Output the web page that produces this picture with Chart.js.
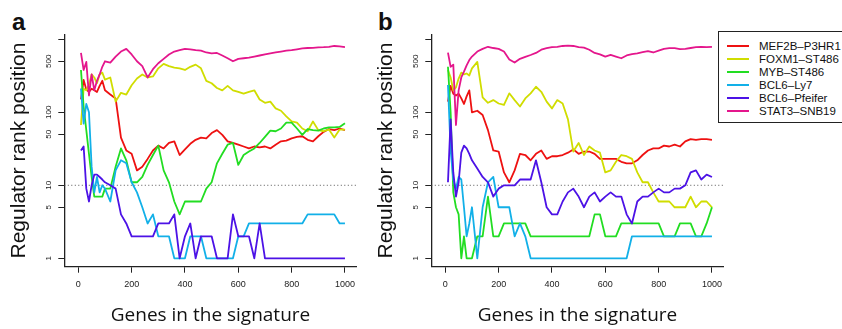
<!DOCTYPE html>
<html>
<head>
<meta charset="utf-8">
<script src="https://cdn.jsdelivr.net/npm/chart.js@4.4.1/dist/chart.umd.min.js"></script>
<style>
  body { margin: 0; background: #fff; width: 842px; height: 329px; overflow: hidden; position: relative;
         font-family: "Liberation Sans", Arial, sans-serif; }
  canvas { position: absolute; top: 0; }
  #chartA { left: 0; }
  #chartB { left: 367px; }
  .tag { position: absolute; font-weight: bold; font-size: 24px; line-height: 24px; color: #111; }
  #legend { position: absolute; left: 718px; top: 31px; width: 140px; height: 90px;
            border: 1px solid #222; background: #fff; }
  .row { position: absolute; left: 8px; height: 13px; display: flex; align-items: center;
         white-space: nowrap; font-size: 11.5px; color: #111; }
  .swatch { display: inline-block; width: 22px; height: 2px; margin-right: 10px; }
</style>
</head>
<body>
<div class="tag" style="left:12px; top:10px;">a</div>
<div class="tag" style="left:378px; top:10px;">b</div>
<canvas id="chartA" width="421" height="329"></canvas>
<canvas id="chartB" width="421" height="329"></canvas>
<div id="legend"></div>
<script>
// -------------------------------
// Data ---------------------------
// -------------------------------
const genes = [10, 20, 30, 40, 50, 60, 70, 80, 90, 100,
  120, 140, 160, 180, 200, 220, 240, 260, 280, 300,
  320, 340, 360, 380, 400, 420, 440, 460, 480, 500,
  520, 540, 560, 580, 600, 620, 640, 660, 680, 700,
  720, 740, 760, 780, 800, 820, 840, 860, 880, 900,
  920, 940, 960, 980, 1000];

const xTicks = [0, 200, 400, 600, 800, 1000];
const yTicks = [1, 5, 10, 50, 100, 500, 1000];
const cutoff = 10;

const seriesNames = ["MEF2B–P3HR1", "FOXM1–ST486", "MYB–ST486", "BCL6–Ly7", "BCL6–Pfeifer", "STAT3–SNB19"];
const seriesColors = ["#EE1111", "#D0DD00", "#22DD22", "#12B0E8", "#4C12E6", "#E4168C"];

// panel a
const mef2bA = [150, 277, 205, 190, 210, 200, 190, 230, 270, 200,
  175, 155, 45, 30, 27, 16, 18, 23, 30, 35,
  32, 38, 40, 26, 31, 37, 42, 45, 44, 52,
  57, 49, 40, 38, 36, 34, 32, 34, 33, 34,
  32, 36, 40, 41, 44, 46, 47, 42, 40, 47,
  54, 59, 57, 60, 57];
const foxm1A = [67, 210, 200, 240, 330, 300, 250, 330, 350, 280,
  300, 140, 185, 175, 235, 290, 330, 300, 310, 400,
  460, 430, 410, 400, 380, 420, 450, 400, 270, 250,
  215, 200, 230, 200, 190, 180, 190, 200, 150, 135,
  140, 113, 105, 88, 75, 72, 60, 55, 75, 57,
  55, 58, 45, 58, 58];
const mybA = [380, 120, 57, 27, 13, 7, 7, 7, 7, 9,
  9, 18, 32, 22, 11, 11, 13, 19, 26, 35,
  16, 11, 6, 4, 6, 6, 6, 6, 9, 11,
  20, 27, 36, 38, 19, 26, 29, 32, 38, 46,
  56, 55, 60, 72, 72, 60, 49, 59, 57, 56,
  60, 62, 62, 63, 71];
const bcl6Ly7A = [212, 70, 130, 100, 18, 8, 13, 8, 10, 9,
  6, 16, 22, 20, 11, 8, 5, 3, 4, 2,
  2, 2, 1, 1, 1, 2, 2, 2, 1, 1,
  1, 1, 1, 1, 2, 2, 3, 3, 3, 3,
  3, 3, 3, 3, 3, 3, 3, 4, 4, 4,
  4, 4, 4, 3, 3];
const bcl6PfA = [30, 34, 9, 6, 10, 14, 14, 13, 12, 11,
  10, 9, 4, 3, 2, 2, 2, 2, 2, 3,
  3, 3, 4, 1, 2, 3, 1, 2, 2, 2,
  1, 1, 1, 4, 2, 2, 2, 1, 3, 1,
  1, 1, 1, 1, 1, 1, 1, 1, 1, 1,
  1, 1, 1, 1, 1];
const stat3A = [650, 380, 490, 170, 330, 200, 270, 330, 420, 500,
  480, 580, 680, 740, 620, 500, 430, 300, 390, 470,
  540, 620, 680, 710, 740, 730, 710, 700, 660, 640,
  650, 600, 550, 500, 540, 550, 560, 580, 600, 620,
  640, 660, 680, 700, 710, 730, 750, 760, 765, 775,
  780, 790, 810, 800, 780];

// panel b
const mef2bB = [140, 230, 180, 170, 180, 155, 130, 165, 200, 100,
  105, 92, 57, 30, 29, 15, 11, 16, 27, 26,
  22, 27, 30, 23, 25, 25, 26, 28, 31, 27,
  29, 29, 27, 23, 23, 23, 23, 21, 20, 20,
  22, 26, 30, 32, 32, 35, 34, 36, 34, 40,
  43, 42, 43, 43, 42];
const foxm1B = [380, 300, 200, 220, 290, 350, 330, 340, 320, 400,
  490, 160, 135, 147, 132, 126, 182, 147, 120, 155,
  182, 224, 191, 140, 113, 147, 132, 80, 29, 38,
  26, 34, 30, 28, 15, 16, 21, 26, 25, 23,
  15, 11, 11, 8, 6, 6, 6, 5, 5, 5,
  7, 5, 6, 6, 5];
const mybB = [420, 100, 8, 5, 4, 1, 2, 1, 1, 1,
  2, 2, 7, 2, 2, 3, 3, 3, 3, 3,
  2, 2, 2, 2, 2, 2, 2, 2, 2, 2,
  2, 2, 4, 4, 2, 2, 2, 3, 3, 3,
  3, 3, 3, 3, 3, 2, 2, 2, 3, 3,
  3, 2, 2, 3, 5];
const bcl6Ly7B = [237, 30, 12, 9, 13, 12, 5, 2, 3, 5,
  1, 5, 11, 13, 5, 5, 5, 2, 3, 2,
  1, 1, 1, 1, 1, 1, 1, 1, 1, 1,
  1, 1, 1, 1, 1, 1, 1, 1, 1, 2,
  2, 2, 2, 2, 2, 2, 2, 2, 2, 2,
  2, 2, 2, 2, 2];
const bcl6PfB = [11, 80, 15, 7, 11, 28, 35, 32, 27, 22,
  17, 13, 11, 7, 9, 10, 10, 10, 12, 12,
  12, 22, 11, 5, 4, 4, 6, 8, 9, 7,
  5, 7, 8, 6, 7, 8, 7, 7, 4, 3,
  6, 7, 7, 8, 9, 8, 8, 9, 9, 10,
  15, 16, 12, 14, 13];
const stat3B = [656, 420, 450, 67, 200, 300, 360, 440, 520, 580,
  680, 740, 790, 760, 740, 680, 530, 480, 540, 575,
  610, 650, 720, 755, 780, 790, 810, 820, 810, 780,
  770, 720, 650, 620, 580, 610, 580, 550, 600, 625,
  640, 665, 690, 660, 700, 740, 755, 755, 735, 740,
  760, 780, 790, 780, 790];

const panelA = [mef2bA, foxm1A, mybA, bcl6Ly7A, bcl6PfA, stat3A];
const panelB = [mef2bB, foxm1B, mybB, bcl6Ly7B, bcl6PfB, stat3B];

// -------------------------------
// Axis ranges (R style, 4% pad) --
// -------------------------------
const X_MIN = -52.5, X_MAX = 1044;
const Y_MIN = 0.767, Y_MAX = 1171;

const axisColor = "#222";

function makeChart(canvasId, series) {
  const datasets = series.map((vals, i) => ({
    label: seriesNames[i],
    data: vals.map((v, j) => ({ x: genes[j], y: v })),
    borderColor: seriesColors[i],
    borderWidth: 1.8,
    borderJoinStyle: "round",
    pointRadius: 0,
    tension: 0,
    fill: false,
    order: series.length - i,
  }));
  // dotted cutoff line at rank 10
  datasets.push({
    label: "cutoff",
    data: [{ x: X_MIN, y: cutoff }, { x: X_MAX, y: cutoff }],
    borderColor: "#555",
    borderWidth: 1,
    borderDash: [1, 2.5],
    pointRadius: 0,
    order: 20,
  });

  return new Chart(document.getElementById(canvasId), {
    type: "line",
    data: { datasets },
    options: {
      responsive: false,
      animation: false,
      events: [],
      layout: { padding: { top: 34.3, right: 64.3, left: 0, bottom: 0 } },
      plugins: { legend: { display: false }, tooltip: { enabled: false } },
      scales: {
        x: {
          type: "linear",
          min: X_MIN,
          max: X_MAX,
          bounds: "data",
          afterBuildTicks: (s) => { s.ticks = xTicks.map((v) => ({ value: v })); },
          afterFit: (s) => { s.height = 62.3; },
          grid: { drawOnChartArea: false, drawTicks: true, tickLength: 6, color: axisColor },
          border: { display: true, color: axisColor, width: 1.3 },
          ticks: {
            autoSkip: false, maxRotation: 0, minRotation: 0, padding: 6,
            color: "#222", font: { family: "Liberation Sans", size: 9 },
            callback: (v) => String(v),
          },
          title: {
            display: true, text: "Genes in the signature", color: "#111",
            font: { family: "Open Sans", size: 19 }, padding: { top: 0, bottom: 2 },
          },
        },
        y: {
          type: "logarithmic",
          min: Y_MIN,
          max: Y_MAX,
          bounds: "data",
          afterBuildTicks: (s) => { s.ticks = yTicks.map((v) => ({ value: v })); },
          afterFit: (s) => { s.width = 64.3; },
          grid: { drawOnChartArea: false, drawTicks: true, tickLength: 6, color: axisColor },
          border: { display: true, color: axisColor, width: 1.3 },
          ticks: {
            autoSkip: false, minRotation: 90, maxRotation: 90, crossAlign: "center", padding: 3,
            color: "#222", font: { family: "Liberation Sans", size: 8 },
            // R drops the 1000 label because it would overlap 500
            callback: (v) => (v === 1000 ? "" : String(v)),
          },
          title: {
            display: true, text: "Regulator rank position", color: "#111",
            font: { family: "Liberation Sans", size: 21 }, padding: { top: 7, bottom: 0 },
          },
        },
      },
    },
  });
}

const chartA = makeChart("chartA", panelA);
const chartB = makeChart("chartB", panelB);

// -------------------------------
// Legend -------------------------
// -------------------------------
const legend = document.getElementById("legend");
seriesNames.forEach((name, i) => {
  const row = document.createElement("div");
  row.className = "row";
  row.style.top = (7.2 + i * 13.1) + "px";
  row.innerHTML = '<span class="swatch" style="background:' + seriesColors[i] + '"></span><span>' + name + "</span>";
  legend.appendChild(row);
});
</script>
</body>
</html>
